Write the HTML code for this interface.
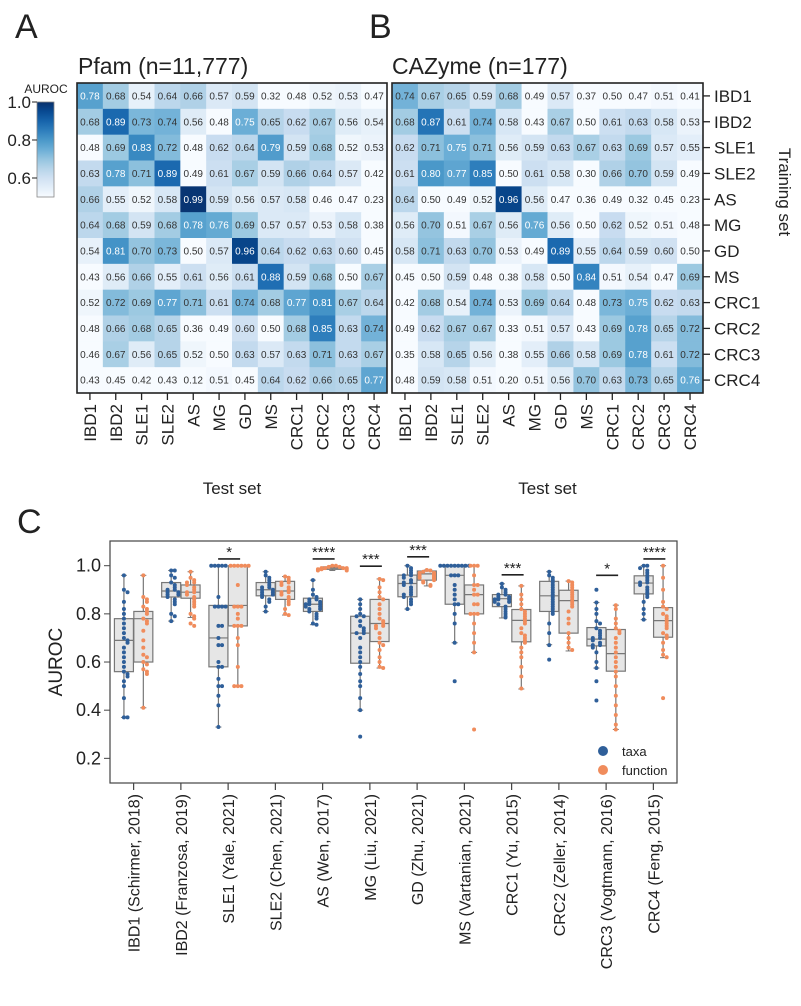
<!DOCTYPE html>
<html><head><meta charset="utf-8"><style>
body{margin:0;background:#fff}
svg{display:block;font-family:"Liberation Sans",Arial,sans-serif}
</style></head><body>
<svg id="fig" width="801" height="1006" viewBox="0 0 801 1006" xmlns="http://www.w3.org/2000/svg">
<text x="15" y="38" font-size="34" fill="#222">A</text>
<text x="369" y="38" font-size="34" fill="#222">B</text>
<text x="17" y="533" font-size="34" fill="#222">C</text>
<text x="78" y="74" font-size="23" fill="#222">Pfam (n=11,777)</text>
<text x="392" y="74" font-size="23" fill="#222">CAZyme (n=177)</text>
<g id="hm"></g>
<g id="cb"></g>
<g id="bp"></g>
</svg>
<script>
const labels=["IBD1","IBD2","SLE1","SLE2","AS","MG","GD","MS","CRC1","CRC2","CRC3","CRC4"];
const pfam=[
[0.78,0.68,0.54,0.64,0.66,0.57,0.59,0.32,0.48,0.52,0.53,0.47],
[0.68,0.89,0.73,0.74,0.56,0.48,0.75,0.65,0.62,0.67,0.56,0.54],
[0.48,0.69,0.83,0.72,0.48,0.62,0.64,0.79,0.59,0.68,0.52,0.53],
[0.63,0.78,0.71,0.89,0.49,0.61,0.67,0.59,0.66,0.64,0.57,0.42],
[0.66,0.55,0.52,0.58,0.99,0.59,0.56,0.57,0.58,0.46,0.47,0.23],
[0.64,0.68,0.59,0.68,0.78,0.76,0.69,0.57,0.57,0.53,0.58,0.38],
[0.54,0.81,0.70,0.73,0.50,0.57,0.96,0.64,0.62,0.63,0.60,0.45],
[0.43,0.56,0.66,0.55,0.61,0.56,0.61,0.88,0.59,0.68,0.50,0.67],
[0.52,0.72,0.69,0.77,0.71,0.61,0.74,0.68,0.77,0.81,0.67,0.64],
[0.48,0.66,0.68,0.65,0.36,0.49,0.60,0.50,0.68,0.85,0.63,0.74],
[0.46,0.67,0.56,0.65,0.52,0.50,0.63,0.57,0.63,0.71,0.63,0.67],
[0.43,0.45,0.42,0.43,0.12,0.51,0.45,0.64,0.62,0.66,0.65,0.77]];
const cazy=[
[0.74,0.67,0.65,0.59,0.68,0.49,0.57,0.37,0.50,0.47,0.51,0.41],
[0.68,0.87,0.61,0.74,0.58,0.43,0.67,0.50,0.61,0.63,0.58,0.53],
[0.62,0.71,0.75,0.71,0.56,0.59,0.63,0.67,0.63,0.69,0.57,0.55],
[0.61,0.80,0.77,0.85,0.50,0.61,0.58,0.30,0.66,0.70,0.59,0.49],
[0.64,0.50,0.49,0.52,0.96,0.56,0.47,0.36,0.49,0.32,0.45,0.23],
[0.56,0.70,0.51,0.67,0.56,0.76,0.56,0.50,0.62,0.52,0.51,0.48],
[0.58,0.71,0.63,0.70,0.53,0.49,0.89,0.55,0.64,0.59,0.60,0.50],
[0.45,0.50,0.59,0.48,0.38,0.58,0.50,0.84,0.51,0.54,0.47,0.69],
[0.42,0.68,0.54,0.74,0.53,0.69,0.64,0.48,0.73,0.75,0.62,0.63],
[0.49,0.62,0.67,0.67,0.33,0.51,0.57,0.43,0.69,0.78,0.65,0.72],
[0.35,0.58,0.65,0.56,0.38,0.55,0.66,0.58,0.69,0.78,0.61,0.72],
[0.48,0.59,0.58,0.51,0.20,0.51,0.56,0.70,0.63,0.73,0.65,0.76]];
const cbTicks=[1.0,0.8,0.6];
const studies=["IBD1 (Schirmer, 2018)","IBD2 (Franzosa, 2019)","SLE1 (Yale, 2021)","SLE2 (Chen, 2021)","AS (Wen, 2017)","MG (Liu, 2021)","GD (Zhu, 2021)","MS (Vartanian, 2021)","CRC1 (Yu, 2015)","CRC2 (Zeller, 2014)","CRC3 (Vogtmann, 2016)","CRC4 (Feng, 2015)"];
const yTicks=[0.2,0.4,0.6,0.8,1.0];
const taxaQ1=[0.56,0.87,0.58,0.875,0.81,0.595,0.871,0.84,0.83,0.81,0.667,0.883];
const taxaMed=[0.69,0.895,0.70,0.90,0.84,0.72,0.926,0.96,0.863,0.875,0.695,0.928];
const taxaQ3=[0.78,0.93,0.835,0.93,0.865,0.79,0.961,1.0,0.88,0.935,0.743,0.958];
const taxaLo=[0.37,0.77,0.33,0.81,0.755,0.40,0.82,0.68,0.783,0.672,0.575,0.776];
const taxaHi=[0.96,0.98,1.0,0.975,0.94,0.86,1.0,1.0,0.925,0.975,0.847,1.0];
const funcQ1=[0.60,0.865,0.75,0.86,0.985,0.685,0.94,0.80,0.684,0.72,0.562,0.703];
const funcMed=[0.78,0.89,0.835,0.895,0.99,0.76,0.966,0.88,0.773,0.855,0.635,0.772];
const funcQ3=[0.81,0.92,1.0,0.935,0.995,0.86,0.978,0.92,0.818,0.898,0.735,0.826];
const funcLo=[0.41,0.785,0.50,0.795,0.98,0.575,0.916,0.64,0.488,0.646,0.32,0.618];
const funcHi=[0.96,0.975,1.0,0.955,1.0,0.945,0.982,1.0,0.916,0.936,0.836,1.0];
const taxaPts=[
[0.96,0.90,0.89,0.85,0.82,0.80,0.78,0.76,0.74,0.72,0.70,0.69,0.68,0.66,0.64,0.62,0.60,0.58,0.56,0.55,0.54,0.52,0.50,0.45,0.37,0.37],
[0.98,0.98,0.96,0.95,0.93,0.92,0.91,0.90,0.90,0.89,0.89,0.88,0.88,0.87,0.86,0.85,0.84,0.80,0.79,0.77],
[1,1,1,1,1,0.87,0.83,0.83,0.83,0.83,0.75,0.75,0.70,0.67,0.67,0.60,0.58,0.58,0.53,0.50,0.50,0.46,0.42,0.33],
[0.975,0.96,0.95,0.94,0.93,0.92,0.91,0.91,0.90,0.90,0.89,0.89,0.88,0.88,0.87,0.86,0.85,0.83,0.81],
[0.94,0.90,0.88,0.87,0.86,0.86,0.85,0.85,0.84,0.84,0.84,0.83,0.83,0.82,0.82,0.81,0.80,0.79,0.78,0.76,0.755],
[0.86,0.84,0.82,0.80,0.79,0.79,0.77,0.75,0.74,0.73,0.72,0.72,0.70,0.66,0.64,0.62,0.60,0.58,0.55,0.52,0.50,0.45,0.40,0.29],
[1.0,0.99,0.98,0.97,0.96,0.96,0.95,0.94,0.93,0.93,0.92,0.91,0.90,0.89,0.88,0.88,0.87,0.86,0.85,0.84,0.82],
[1,1,1,1,1,1,1,1,1,0.96,0.96,0.96,0.92,0.90,0.88,0.86,0.84,0.84,0.80,0.76,0.68,0.52],
[0.925,0.91,0.90,0.89,0.88,0.88,0.87,0.87,0.86,0.86,0.86,0.85,0.85,0.84,0.83,0.82,0.81,0.80,0.79,0.785],
[0.975,0.96,0.95,0.94,0.93,0.92,0.91,0.90,0.89,0.88,0.87,0.86,0.85,0.84,0.83,0.82,0.81,0.80,0.76,0.72,0.67,0.61],
[0.90,0.847,0.82,0.80,0.77,0.76,0.74,0.73,0.72,0.71,0.70,0.70,0.69,0.68,0.67,0.67,0.66,0.64,0.60,0.575,0.52,0.44],
[1,1,0.99,0.98,0.97,0.96,0.95,0.94,0.93,0.93,0.92,0.91,0.90,0.89,0.88,0.87,0.85,0.82,0.80,0.776]];
const funcPts=[
[0.96,0.87,0.86,0.85,0.83,0.82,0.81,0.80,0.78,0.77,0.76,0.73,0.69,0.66,0.63,0.62,0.60,0.59,0.57,0.56,0.55,0.41],
[0.975,0.95,0.94,0.93,0.93,0.92,0.91,0.90,0.89,0.89,0.88,0.87,0.86,0.85,0.84,0.83,0.80,0.79,0.78,0.76,0.75],
[1,1,1,1,1,1,0.92,0.83,0.83,0.83,0.80,0.78,0.75,0.75,0.75,0.70,0.67,0.58,0.50,0.50,0.50],
[0.955,0.95,0.94,0.93,0.93,0.92,0.91,0.90,0.89,0.89,0.88,0.87,0.86,0.85,0.84,0.82,0.80,0.795],
[1,1,0.995,0.995,0.99,0.99,0.99,0.99,0.985,0.985,0.985,0.98,0.98],
[0.945,0.94,0.91,0.89,0.87,0.86,0.84,0.82,0.80,0.78,0.77,0.76,0.75,0.75,0.74,0.72,0.70,0.68,0.67,0.65,0.62,0.60,0.58,0.575],
[0.982,0.98,0.975,0.97,0.97,0.965,0.96,0.96,0.955,0.95,0.95,0.945,0.94,0.935,0.93,0.92,0.916],
[1,1,1,0.96,0.92,0.92,0.90,0.88,0.88,0.84,0.84,0.80,0.80,0.80,0.76,0.72,0.68,0.64,0.32],
[0.916,0.88,0.86,0.84,0.82,0.81,0.80,0.79,0.78,0.77,0.76,0.74,0.72,0.71,0.70,0.69,0.68,0.66,0.64,0.62,0.58,0.54,0.49],
[0.936,0.93,0.92,0.91,0.90,0.89,0.88,0.87,0.86,0.85,0.84,0.83,0.81,0.78,0.76,0.72,0.70,0.68,0.66,0.65],
[0.836,0.82,0.78,0.76,0.74,0.73,0.72,0.70,0.68,0.66,0.64,0.62,0.60,0.58,0.56,0.54,0.50,0.46,0.42,0.38,0.34,0.32],
[1,0.95,0.90,0.85,0.83,0.82,0.80,0.79,0.78,0.77,0.76,0.75,0.74,0.72,0.71,0.70,0.68,0.65,0.63,0.62,0.45]];
const sigIdx=[2,4,5,6,8,10,11];
const sigStars=["*","****","***","***","***","*","****"];
const sigLevel=[1.028,1.028,0.998,1.037,0.962,0.96,1.028];

const NS="http://www.w3.org/2000/svg";
function mk(tag,attrs,parent,txt){const e=document.createElementNS(NS,tag);for(const k in attrs)e.setAttribute(k,attrs[k]);if(txt!==undefined)e.textContent=txt;parent.appendChild(e);return e;}
const stops=["#f7fbff","#deebf7","#c6dbef","#9ecae1","#6baed6","#4292c6","#2171b5","#08519c","#08306b"].map(h=>[parseInt(h.slice(1,3),16),parseInt(h.slice(3,5),16),parseInt(h.slice(5,7),16)]);
function blues(v){let t=(v-0.5)/0.5;t=Math.max(0,Math.min(1,t));const p=t*(stops.length-1);const i=Math.min(stops.length-2,Math.floor(p));const f=p-i;const c=stops[i].map((a,j)=>Math.round(a+(stops[i+1][j]-a)*f));return `rgb(${c[0]},${c[1]},${c[2]})`;}

const hm=document.getElementById('hm');
function heat(data,x0,w,name){
  const y0=83,h=310,cw=w/12,ch=h/12;
  const g=mk('g',{},hm);
  
  
  data.forEach((row,r)=>row.forEach((v,c)=>{
    const rc=mk('rect',{x:x0+c*cw,y:y0+r*ch,width:cw+0.5,height:ch+0.5,fill:blues(v)},g);
    
    
    const t=mk('text',{x:x0+c*cw+cw/2,y:y0+r*ch+ch/2+3.5,'font-size':10,'text-anchor':'middle',fill:v>=0.75?'#fff':'#333'},g,v.toFixed(2));
    
    
  }));
  const b=mk('rect',{x:x0,y:y0,width:w,height:h,fill:'none',stroke:'#222','stroke-width':1.6},g);
  
  
  labels.forEach((l,c)=>{
    const cx=x0+c*cw+cw/2;
    mk('line',{x1:cx,x2:cx,y1:y0+h,y2:y0+h+7,stroke:'#222','stroke-width':1.3},g);
    const t=mk('text',{x:0,y:0,'font-size':17,'text-anchor':'end',fill:'#222',transform:`translate(${cx+6},${y0+h+11}) rotate(-90)`},g,l);
    
    
  });
  const tt=mk('text',{x:x0+w/2,y:494,'font-size':17,'text-anchor':'middle',fill:'#222'},g,'Test set');
  
  
}
heat(pfam,77,310,'pfam-heatmap');
heat(cazy,392,311,'cazyme-heatmap');
labels.forEach((l,r)=>{
  const cy=83+r*310/12+310/24;
  mk('line',{x1:703,x2:710,y1:cy,y2:cy,stroke:'#222','stroke-width':1.3},hm);
  const t=mk('text',{x:714,y:cy+6,'font-size':17,fill:'#222'},hm,l);
  
  
});
const ts=mk('text',{x:0,y:0,'font-size':17,'text-anchor':'middle',fill:'#222',transform:'translate(779,192) rotate(90)'},hm,'Training set');



// colorbar
const cb=document.getElementById('cb');
const defs=mk('defs',{},cb);
const lg=mk('linearGradient',{id:'cbg',x1:0,y1:1,x2:0,y2:0},defs);
for(let i=0;i<=10;i++){mk('stop',{offset:i/10,'stop-color':blues(0.5+i*0.05)},lg);}
const cby=v=>102+(1-v)*190;
mk('rect',{x:37,y:cby(1),width:17,height:cby(0.5)-cby(1),fill:'url(#cbg)',stroke:'#888','stroke-width':0.8},cb);
const al=mk('text',{x:46,y:93,'font-size':12,'text-anchor':'middle',fill:'#222'},cb,'AUROC');


cbTicks.forEach(v=>{mk('line',{x1:32,x2:37,y1:cby(v),y2:cby(v),stroke:'#222'},cb);
  const t=mk('text',{x:31,y:cby(v)+6,'font-size':17,'text-anchor':'end',fill:'#222'},cb,v.toFixed(1));
  
  });

// boxplot
const bp=document.getElementById('bp');
const L=110,R=677,T=541,B=783;
const yS=v=>565.7+(1-v)*240.8;
const bw=(R-L)/12;
const xC=i=>L+bw*(i+0.5);
const frame=mk('rect',{x:L,y:T,width:R-L,height:B-T,fill:'none',stroke:'#444','stroke-width':1.2},bp);


yTicks.forEach(v=>{mk('line',{x1:L-6,x2:L,y1:yS(v),y2:yS(v),stroke:'#444'},bp);
  const t=mk('text',{x:L-9,y:yS(v)+6,'font-size':18,'text-anchor':'end',fill:'#222'},bp,v.toFixed(1));
  
  });
const yt=mk('text',{x:0,y:0,'font-size':19,'text-anchor':'middle',fill:'#222',transform:`translate(62,${yS(0.6)}) rotate(-90)`},bp,'AUROC');


function drawBox(cx,q1,md,q3,lo,hi,pts,col,name){
  const g=mk('g',{},bp);
  
  
  const w=19;
  mk('line',{x1:cx,x2:cx,y1:yS(hi),y2:yS(q3),stroke:'#777','stroke-width':1.2},g);
  mk('line',{x1:cx,x2:cx,y1:yS(q1),y2:yS(lo),stroke:'#777','stroke-width':1.2},g);
  mk('line',{x1:cx-3,x2:cx+3,y1:yS(hi),y2:yS(hi),stroke:'#777'},g);
  mk('line',{x1:cx-3,x2:cx+3,y1:yS(lo),y2:yS(lo),stroke:'#777'},g);
  mk('rect',{x:cx-w/2,y:yS(q3),width:w,height:Math.max(1,yS(q1)-yS(q3)),fill:'#e6e6e6',stroke:'#777','stroke-width':1.2},g);
  mk('line',{x1:cx-w/2,x2:cx+w/2,y1:yS(md),y2:yS(md),stroke:'#777','stroke-width':1.2},g);
  const placed=[];
  pts.forEach(v=>{const y=yS(v);let k=placed.filter(p=>Math.abs(p-y)<3.2).length;placed.push(y);
    const off=(k%2?1:-1)*Math.ceil(k/2)*3.6;
    const c=mk('circle',{cx:cx+off,cy:y,r:2,fill:col},g);
    
    });
}
studies.forEach((s,i)=>{
  drawBox(xC(i)-9.7,taxaQ1[i],taxaMed[i],taxaQ3[i],taxaLo[i],taxaHi[i],taxaPts[i],'#2f5f99','taxa-box');
  drawBox(xC(i)+9.7,funcQ1[i],funcMed[i],funcQ3[i],funcLo[i],funcHi[i],funcPts[i],'#f08c5c','function-box');
  mk('line',{x1:xC(i),x2:xC(i),y1:B,y2:B+7,stroke:'#444','stroke-width':1.2},bp);
  const t=mk('text',{x:0,y:0,'font-size':16,'text-anchor':'end',fill:'#222',transform:`translate(${xC(i)+6},${B+11}) rotate(-90)`},bp,s);
  
  
});
sigIdx.forEach((i,k)=>{
  const y=yS(sigLevel[k]);
  mk('line',{x1:xC(i)-10,x2:xC(i)+12,y1:y,y2:y,stroke:'#222','stroke-width':1.6},bp);
  const t=mk('text',{x:xC(i)+1,y:y-2,'font-size':15,'text-anchor':'middle',fill:'#222'},bp,sigStars[k]);
  
  
});
const leg=mk('g',{},bp);


mk('circle',{cx:603,cy:751,r:5,fill:'#2f5f99'},leg);
mk('circle',{cx:603,cy:770,r:5,fill:'#f08c5c'},leg);
const l1=mk('text',{x:622,y:756,'font-size':13,fill:'#222'},leg,'taxa');


const l2=mk('text',{x:622,y:775,'font-size':13,fill:'#222'},leg,'function');


</script>
</body></html>
